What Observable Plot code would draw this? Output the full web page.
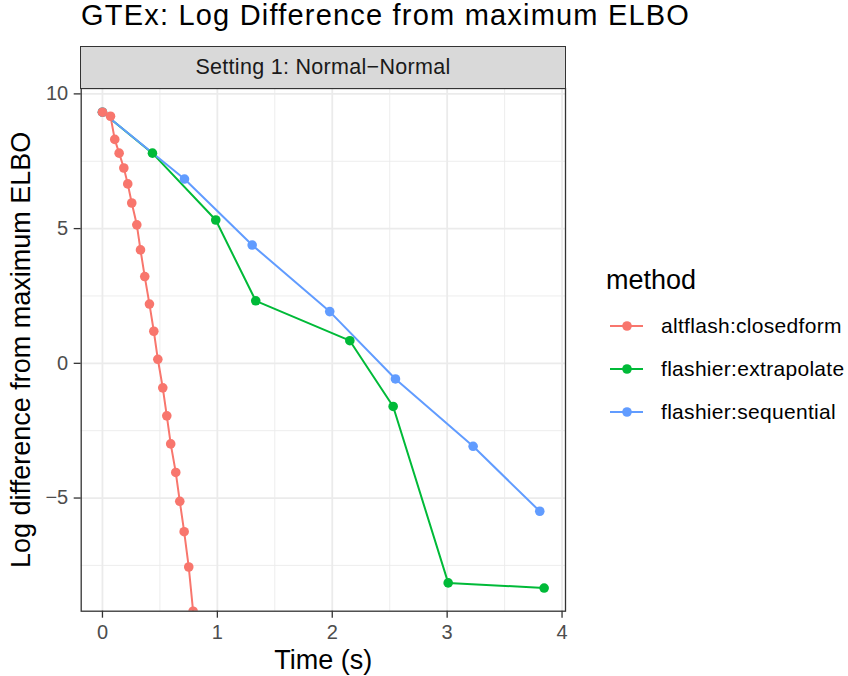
<!DOCTYPE html>
<html>
<head>
<meta charset="utf-8">
<script src="https://cdn.jsdelivr.net/npm/d3@7"></script>
<script src="https://cdn.jsdelivr.net/npm/@observablehq/plot@0.6"></script>
<style>
  html, body { margin: 0; padding: 0; background: #fff; }
  body { font-family: "Liberation Sans", Arial, Helvetica, sans-serif; }
  #wrap { position: relative; width: 848px; height: 676px; overflow: hidden; }
  #title { position: absolute; left: 81px; top: 0px; font-size: 29px; line-height: 31px; letter-spacing: 1.2px; color: #000; white-space: nowrap; }
  #strip { position: absolute; left: 80px; top: 46px; width: 486px; height: 43px; box-sizing: border-box;
           background: #D9D9D9; border: 1.4px solid #333; color: #1A1A1A; font-size: 21.5px; letter-spacing: 0.3px; text-align: center; line-height: 40px; }
  #chart { position: absolute; left: 0; top: 40px; }
  #legend { position: absolute; left: 606px; top: 267px; color: #000; }
  #legend .ttl { font-size: 27px; line-height: 27px; height: 37px; }
  #legend .row { display: flex; align-items: center; height: 43px; font-size: 21px; letter-spacing: 0.3px; }
  #legend svg { margin-left: -2px; margin-right: 9px; }
  g[aria-label="x-axis label"], g[aria-label="y-axis label"] { font-size: 27px; fill: #000; }
  g[aria-label="x-axis tick"], g[aria-label="y-axis tick"] { stroke: #333; }
</style>
</head>
<body>
<div id="wrap">
  <div id="title">GTEx: Log Difference from maximum ELBO</div>
  <div id="chart"></div>
  <div id="strip">Setting 1: Normal−Normal</div>
  <div id="legend"></div>
</div>
<script>
const methods = ["altflash:closedform", "flashier:extrapolate", "flashier:sequential"];
const methodColors = ["#F8766D", "#00BA38", "#619CFF"];

const altTime = [0, 0.07, 0.107, 0.145, 0.186, 0.22, 0.255, 0.299, 0.331, 0.368, 0.409, 0.447, 0.482, 0.525, 0.56, 0.594, 0.638, 0.673, 0.711, 0.751, 0.789];
const altValue = [9.32, 9.17, 8.31, 7.80, 7.25, 6.66, 5.95, 5.14, 4.21, 3.22, 2.20, 1.19, 0.15, -0.91, -1.95, -2.99, -4.05, -5.12, -6.25, -7.56, -9.2];

const extTime = [0, 0.435, 0.986, 1.334, 2.153, 2.53, 3.009, 3.844];
const extValue = [9.32, 7.80, 5.32, 2.32, 0.84, -1.60, -8.15, -8.34];

const seqTime = [0, 0.714, 1.303, 1.978, 2.55, 3.226, 3.806];
const seqValue = [9.32, 6.84, 4.39, 1.92, -0.58, -3.08, -5.49];

const xTicks = [0, 1, 2, 3, 4];
const xMinorTicks = [0.5, 1.5, 2.5, 3.5];
const yTicks = [-5, 0, 5, 10];
const yMinorTicks = [-7.5, -2.5, 2.5, 7.5];

const series = [
  {method: methods[0], time: altTime, value: altValue},
  {method: methods[1], time: extTime, value: extValue},
  {method: methods[2], time: seqTime, value: seqValue}
];
const rows = series.flatMap(s => s.time.map((t, i) => ({method: s.method, time: t, value: s.value[i]})));
// points: red drawn last (on top)
const dotRows = [...rows.filter(d => d.method !== methods[0]), ...rows.filter(d => d.method === methods[0])];

const grid = {stroke: "#EBEBEB", strokeOpacity: 1};
const fmt = d => (d < 0 ? "\u2212" : "") + Math.abs(d);

const chart = Plot.plot({
  width: 848,
  height: 636,
  marginTop: 48,
  marginBottom: 65.3,
  marginLeft: 80.7,
  marginRight: 283,
  style: {fontFamily: "'Liberation Sans', Arial, Helvetica, sans-serif", fontSize: "20px", background: "transparent", overflow: "visible"},
  x: {domain: [-0.185, 4.03]},
  y: {domain: [-9.2, 10.2]},
  color: {domain: methods, range: methodColors},
  marks: [
    Plot.gridX(xMinorTicks, {...grid, strokeWidth: 0.9}),
    Plot.gridY(yMinorTicks, {...grid, strokeWidth: 0.9}),
    Plot.gridX(xTicks, {...grid, strokeWidth: 1.8}),
    Plot.gridY(yTicks, {...grid, strokeWidth: 1.8}),
    Plot.line(rows, {x: "time", y: "value", stroke: "method", z: "method", strokeWidth: 2, clip: true}),
    Plot.dot(dotRows, {x: "time", y: "value", fill: "method", r: 4.8, clip: true}),
    Plot.frame({stroke: "#333", strokeWidth: 1.3}),
    Plot.axisX(xTicks, {tickSize: 7, tickPadding: 7, strokeWidth: 1.3, color: "#4D4D4D", tickFormat: fmt,
      label: "Time (s)", labelAnchor: "center", labelArrow: "none", labelOffset: 58}),
    Plot.axisY(yTicks, {tickSize: 7, tickPadding: 6, strokeWidth: 1.3, color: "#4D4D4D", tickFormat: fmt,
      label: "Log difference from maximum ELBO", labelAnchor: "center", labelArrow: "none", labelOffset: 70})
  ]
});
document.getElementById("chart").appendChild(chart);

// legend
const legend = document.getElementById("legend");
const ttl = document.createElement("div");
ttl.className = "ttl";
ttl.textContent = "method";
legend.appendChild(ttl);
methods.forEach((m, i) => {
  const row = document.createElement("div");
  row.className = "row";
  const sw = d3.create("svg").attr("width", 48).attr("height", 20);
  sw.append("line").attr("x1", 6).attr("x2", 39).attr("y1", 10).attr("y2", 10)
    .attr("stroke", methodColors[i]).attr("stroke-width", 2);
  sw.append("circle").attr("cx", 23).attr("cy", 10).attr("r", 4.8).attr("fill", methodColors[i]);
  row.appendChild(sw.node());
  const lab = document.createElement("span");
  lab.textContent = m;
  row.appendChild(lab);
  legend.appendChild(row);
});
</script>
</body>
</html>
